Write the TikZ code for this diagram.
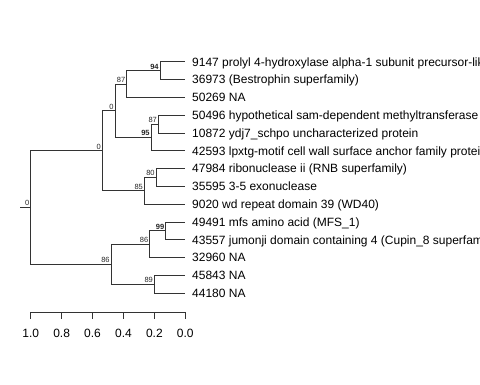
\documentclass[tikz,border=0pt]{standalone}
\usepackage{fontspec}
\setmainfont{Liberation Sans}
\usetikzlibrary{positioning,calc}

\begin{document}
\begin{tikzpicture}[
  x=1pt, y=-1pt,
  edge/.style={draw=black!80, line width=0.75pt},
  leaf/.style={anchor=west, inner ysep=0pt, inner xsep=7.5pt, text height=8.6pt, text depth=0pt,
    font=\fontsize{12}{14}\selectfont},
  blab/.style={anchor=south east, inner sep=1.2pt, text=black!85, font=\fontsize{7.5}{9}\selectfont},
  bblab/.style={blab, font=\fontsize{7.5}{9}\selectfont\bfseries}
]
  \useasboundingbox (0,0) rectangle (480,384);

  % Leaves
  \node[leaf] (L9147)  at (184.5,61.7)  {9147 prolyl 4-hydroxylase alpha-1 subunit precursor-like};
  \node[leaf] (L36973) at (184.5,79.5)  {36973 (Bestrophin superfamily)};
  \node[leaf] (L50269) at (184.5,97.3)  {50269 NA};
  \node[leaf] (L50496) at (184.5,115.1) {50496 hypothetical sam-dependent methyltransferase};
  \node[leaf] (L10872) at (184.5,132.9) {10872 ydj7\_schpo uncharacterized protein};
  \node[leaf] (L42593) at (184.5,150.7) {42593 lpxtg-motif cell wall surface anchor family protein};
  \node[leaf] (L47984) at (184.5,168.5) {47984 ribonuclease ii (RNB superfamily)};
  \node[leaf] (L35595) at (184.5,186.3) {35595 3-5 exonuclease};
  \node[leaf] (L9020)  at (184.5,204.1) {9020 wd repeat domain 39 (WD40)};
  \node[leaf] (L49491) at (184.5,221.9) {49491 mfs amino acid (MFS\_1)};
  \node[leaf] (L43557) at (184.5,239.7) {43557 jumonji domain containing 4 (Cupin\_8 superfamily)};
  \node[leaf] (L32960) at (184.5,257.5) {32960 NA};
  \node[leaf] (L45843) at (184.5,275.3) {45843 NA};
  \node[leaf] (L44180) at (184.5,293.1) {44180 NA};

  % Internal nodes
  \coordinate (root) at (30.7,207.45);
  \coordinate (nA) at (102.3,150.7);
  \coordinate (nB) at (115,110.65);
  \coordinate (nC) at (126.7,83.95);
  \coordinate (nD) at (160,70.6);
  \coordinate (nE) at (151,137.35);
  \coordinate (nF) at (158.3,124);
  \coordinate (nG) at (144.3,190.75);
  \coordinate (nH) at (156,177.4);
  \coordinate (nI) at (111,264.2);
  \coordinate (nJ) at (149.7,244.15);
  \coordinate (nK) at (165.7,230.8);
  \coordinate (nL) at (154.3,284.2);
  \coordinate (stub) at (20,207.45);

  % Edges
  \draw[edge] (stub) -- (root);
  \draw[edge] (root) |- (nA);
  \draw[edge] (root) |- (nI);
  \draw[edge] (nA) |- (nB);
  \draw[edge] (nA) |- (nG);
  \draw[edge] (nB) |- (nC);
  \draw[edge] (nB) |- (nE);
  \draw[edge] (nC) |- (nD);
  \draw[edge] (nC) |- (L50269.west);
  \draw[edge] (nD) |- (L9147.west);
  \draw[edge] (nD) |- (L36973.west);
  \draw[edge] (nE) |- (nF);
  \draw[edge] (nE) |- (L42593.west);
  \draw[edge] (nF) |- (L50496.west);
  \draw[edge] (nF) |- (L10872.west);
  \draw[edge] (nG) |- (nH);
  \draw[edge] (nG) |- (L9020.west);
  \draw[edge] (nH) |- (L47984.west);
  \draw[edge] (nH) |- (L35595.west);
  \draw[edge] (nI) |- (nJ);
  \draw[edge] (nI) |- (nL);
  \draw[edge] (nJ) |- (nK);
  \draw[edge] (nJ) |- (L32960.west);
  \draw[edge] (nK) |- (L49491.west);
  \draw[edge] (nK) |- (L43557.west);
  \draw[edge] (nL) |- (L45843.west);
  \draw[edge] (nL) |- (L44180.west);

  % Support values
  \node[blab]  (broot) at (root) {0};
  \node[blab]  (bA) at (nA) {0};
  \node[blab]  (bB) at (nB) {0};
  \node[blab]  (bC) at (nC) {87};
  \node[bblab] (bD) at (nD) {94};
  \node[bblab] (bE) at (nE) {95};
  \node[blab]  (bF) at (nF) {87};
  \node[blab]  (bG) at (nG) {85};
  \node[blab]  (bH) at (nH) {80};
  \node[blab]  (bI) at (nI) {86};
  \node[blab]  (bJ) at (nJ) {86};
  \node[bblab] (bK) at (nK) {99};
  \node[blab]  (bL) at (nL) {89};

  % Scale axis
  \draw[edge] (30.7,312) -- (185.3,312);
  \foreach \v [count=\i from 0] in {1.0,0.8,0.6,0.4,0.2,0.0} {
    \draw[edge] (30.7+\i*30.92,312) -- (30.7+\i*30.92,318.5);
    \node[font=\fontsize{12}{14}\selectfont, inner sep=0pt] (ax\i) at (30.7+\i*30.92,333) {\v};
  }
\end{tikzpicture}
\end{document}
